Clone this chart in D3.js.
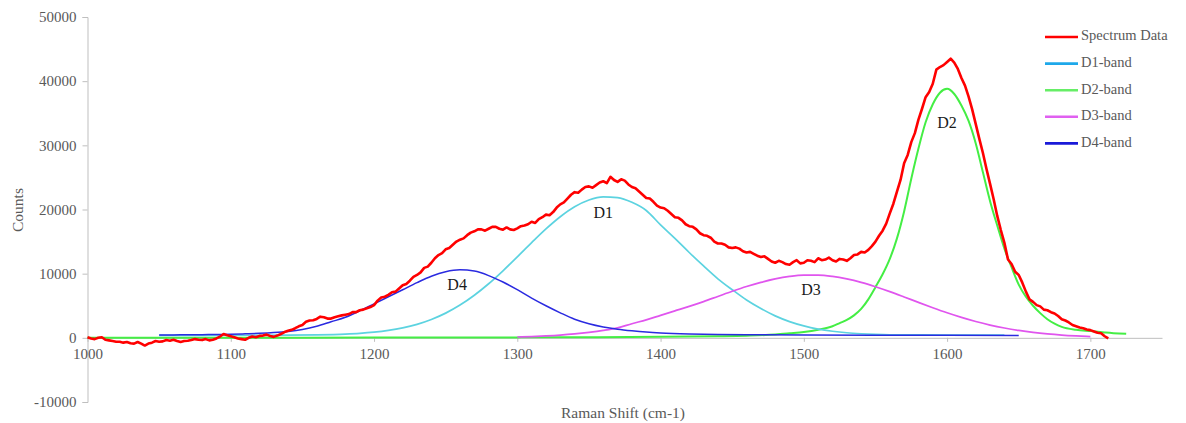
<!DOCTYPE html>
<html>
<head>
<meta charset="utf-8">
<script src="https://cdn.jsdelivr.net/npm/d3@7"></script>
<style>
  html, body { margin: 0; padding: 0; background: #fff; }
  svg { display: block; }
  text { font-family: "Liberation Serif", "Times New Roman", serif; }
</style>
</head>
<body>
<svg id="chart" width="1186" height="423"></svg>
<script>
// ---- Data ----
const spectrumShift = [
1000,1002.5,1005,1007.5,1010,1012.5,1015,1017.5,1020,1022.5,1025,1027.5,1030,1032.5,1035,1037.5,1040,1042.5,1045,1047.5,
1050,1052.5,1055,1057.5,1060,1062.5,1065,1067.5,1070,1072.5,1075,1077.5,1080,1082.5,1085,1087.5,1090,1092.5,1095,1097.5,
1100,1102.5,1105,1107.5,1110,1112.5,1115,1117.5,1120,1122.5,1125,1127.5,1130,1132.5,1135,1137.5,1140,1142.5,1145,1147.5,
1150,1152.5,1155,1157.5,1160,1162.5,1165,1167.5,1170,1172.5,1175,1177.5,1180,1182.5,1185,1187.5,1190,1192.5,1195,1197.5,
1200,1202.5,1205,1207.5,1210,1212.5,1215,1217.5,1220,1222.5,1225,1227.5,1230,1232.5,1235,1237.5,1240,1242.5,1245,1247.5,
1250,1252.5,1255,1257.5,1260,1262.5,1265,1267.5,1270,1272.5,1275,1277.5,1280,1282.5,1285,1287.5,1290,1292.5,1295,1297.5,
1300,1302.5,1305,1307.5,1310,1312.5,1315,1317.5,1320,1322.5,1325,1327.5,1330,1332.5,1335,1337.5,1340,1342.5,1345,1347.5,
1350,1352.5,1355,1357.5,1360,1362.5,1365,1367.5,1370,1372.5,1375,1377.5,1380,1382.5,1385,1387.5,1390,1392.5,1395,1397.5,
1400,1402.5,1405,1407.5,1410,1412.5,1415,1417.5,1420,1422.5,1425,1427.5,1430,1432.5,1435,1437.5,1440,1442.5,1445,1447.5,
1450,1452.5,1455,1457.5,1460,1462.5,1465,1467.5,1470,1472.5,1475,1477.5,1480,1482.5,1485,1487.5,1490,1492.5,1495,1497.5,
1500,1502.5,1505,1507.5,1510,1512.5,1515,1517.5,1520,1522.5,1525,1527.5,1530,1532.5,1535,1537.5,1540,1542.5,1545,1547.5,
1550,1552.5,1555,1557.5,1560,1562.5,1565,1567.5,1570,1572.5,1575,1577.5,1580,1582.5,1585,1587.5,1590,1592.5,1595,1597.5,
1600,1602.5,1605,1607.5,1610,1612.5,1615,1617.5,1620,1622.5,1625,1627.5,1630,1632.5,1635,1637.5,1640,1642.5,1645,1647.5,
1650,1652.5,1655,1657.5,1660,1662.5,1665,1667.5,1670,1672.5,1675,1677.5,1680,1682.5,1685,1687.5,1690,1692.5,1695,1697.5,
1700,1702.5,1705,1707.5,1710,1712.5];
const spectrumCounts = [
100,-100,-200,0,100,-300,-400,-500,-600,-600,-750,-650,-850,-900,-650,-900,-1200,-900,-750,-500,
-600,-550,-350,-450,-300,-500,-650,-500,-450,-350,-200,-300,-350,-200,-400,-300,-100,200,600,400,
250,100,-100,-200,-300,0,200,100,300,350,500,300,150,350,600,900,1100,1250,1500,1800,
2000,2500,2700,2750,2950,3300,3200,3000,3000,3200,3350,3500,3600,3700,4000,4000,4300,4400,4600,4800,
5100,5800,6300,6400,6700,7100,7200,7700,8200,8400,8900,9500,9800,10200,10900,11100,11700,12400,12900,13200,
13800,14000,14500,15000,15300,15500,16000,16400,16600,16900,16900,16700,17000,17300,17300,17000,16850,17200,16900,16800,
17050,17400,17500,17700,18100,17900,18500,18800,19200,19100,19600,20300,20800,21100,21700,22300,22700,22600,23100,23500,
23600,23400,23800,24200,24400,24100,25100,24600,24300,24700,24500,23900,23500,23300,22800,22300,21800,21700,21200,20600,
20300,20200,19800,19300,18800,18700,18300,17700,17400,17300,16900,16300,16000,15900,15600,15000,14700,14700,14500,14100,
14000,14100,13900,13500,13300,13400,13100,12800,12600,12700,12300,11900,11700,12000,11800,11500,11400,11800,12100,11600,
11700,12100,12000,11800,12400,12100,12200,12500,12100,11900,12300,12200,12000,12400,12900,13000,13400,13300,13700,14300,
15000,15900,16700,17800,19400,20900,22800,24600,27200,28500,30500,31900,34000,35700,37500,38300,39600,41800,42200,42500,
43000,43500,42900,41900,40500,39300,37600,35600,33300,31000,28800,26300,24000,21600,19000,16800,14800,12200,11500,10300,
9800,8600,7200,6000,5600,5100,4900,4400,4300,4000,3800,3400,2900,2700,2400,2000,1800,1600,1500,1300,
1200,1000,800,700,250,-100];

const d1Shift = [1050,1075,1100,1120,1140,1160,1180,1190,1200,1210,1220,1230,1240,1250,1260,1270,1280,1290,1300,1310,1320,1330,1340,1350,1360,1370,1380,1390,1400,1410,1420,1430,1440,1450,1460,1470,1480,1490,1500,1510,1520,1530,1540,1550,1560,1580,1600,1620,1640];
const d1Counts = [380,390,400,400,420,460,575,690,875,1150,1545,2100,2860,3850,5110,6640,8430,10450,12620,14830,16970,18870,20420,21480,21970,21850,21120,19850,17600,15500,13300,11200,9200,7500,5900,4570,3420,2530,1860,1370,1030,790,640,540,480,450,430,420,410];

const d2Shift = [1000,1050,1100,1150,1200,1250,1300,1350,1400,1420,1440,1460,1480,1490,1500,1510,1520,1525,1530,1535,1540,1545,1550,1555,1560,1565,1570,1575,1580,1585,1590,1595,1600,1605,1610,1615,1620,1625,1630,1635,1640,1645,1650,1655,1660,1665,1670,1675,1680,1690,1700,1710,1720,1725];
const d2Counts = [0,10,20,30,40,50,70,100,150,190,250,340,520,700,900,1250,1800,2300,2800,3500,4500,6000,7900,9900,12300,15500,19700,24800,29500,33600,36400,38200,38800,38000,36200,33800,30300,25800,21300,17500,13900,11000,8300,6400,5000,3850,2900,2200,1700,1250,1050,850,680,620];

const d3Shift = [1300,1310,1320,1330,1340,1350,1360,1370,1380,1390,1400,1410,1420,1430,1440,1450,1460,1470,1480,1490,1500,1510,1520,1530,1540,1550,1560,1570,1580,1590,1600,1610,1620,1630,1640,1650,1660,1670,1680,1690,1700];
const d3Counts = [130,200,300,430,610,850,1150,1550,2200,2800,3500,4200,4900,5650,6450,7250,8000,8650,9190,9580,9780,9780,9580,9190,8650,7970,7200,6370,5520,4690,3900,3180,2540,1990,1530,1150,845,610,430,300,200];

const d4Shift = [1050,1060,1070,1080,1090,1100,1110,1120,1130,1140,1150,1160,1170,1180,1190,1200,1210,1220,1230,1240,1250,1260,1270,1280,1290,1300,1310,1320,1330,1340,1350,1360,1370,1380,1390,1400,1420,1440,1460,1500,1550,1600,1650];
const d4Counts = [450,460,470,490,520,560,620,700,820,1000,1300,1800,2500,3200,4200,5300,6400,7500,8600,9600,10300,10600,10400,9700,8700,7500,6200,5000,3900,2900,2200,1700,1350,1100,900,760,600,520,480,430,400,390,380];

const xTicks = [1000,1100,1200,1300,1400,1500,1600,1700];
const yTicks = [-10000,0,10000,20000,30000,40000,50000];
const legendNames = ["Spectrum Data","D1-band","D2-band","D3-band","D4-band"];
const bandLabels = ["D1","D2","D3","D4"];
const bandLabelShift = [1360,1600,1505,1258];
const bandLabelCounts = [19200,33300,7200,8100];

// ---- Layout / styles ----
const svg = d3.select("#chart");
const x = d3.scaleLinear().domain([1000, 1750]).range([87.5, 1162]);
const y = d3.scaleLinear().domain([-10000, 50000]).range([402, 17]);
const axisColor = "#bfbfbf";
const textColor = "#595959";
const serif = '"Liberation Serif", "Times New Roman", serif';

const lineColors = ["#ff0000", "#5cd3e0", "#44ee44", "#e055ee", "#2a2ae0"];
const legendColors = ["#ff0000", "#1ea8ea", "#66ee66", "#e060f0", "#1a1ad8"];

// Y axis
const yAxis = svg.append("g").attr("transform", `translate(${x(1000)},0)`)
  .call(d3.axisLeft(y).tickValues(yTicks).tickSize(5).tickPadding(6).tickFormat(d => String(d)));
yAxis.attr("font-family", serif);
yAxis.select(".domain").attr("stroke", axisColor);
yAxis.selectAll(".tick line").attr("stroke", axisColor);
yAxis.selectAll(".tick text").attr("fill", textColor).style("font-size", "15px").style("font-family", serif);

// X axis at y=0
const xAxis = svg.append("g").attr("transform", `translate(0,${y(0)})`)
  .call(d3.axisBottom(x).tickValues(xTicks).tickSize(4).tickSizeOuter(0).tickPadding(7).tickFormat(d => String(d)));
xAxis.attr("font-family", serif);
xAxis.select(".domain").attr("stroke", axisColor);
xAxis.selectAll(".tick line").attr("stroke", axisColor);
xAxis.selectAll(".tick text").attr("fill", textColor).style("font-size", "15px").style("font-family", serif);

// Axis titles
svg.append("text").attr("x", 623).attr("y", 418).attr("text-anchor", "middle")
  .attr("fill", textColor).style("font-size", "15.5px").text("Raman Shift (cm-1)");
svg.append("text").attr("transform", "translate(23,210) rotate(-90)").attr("text-anchor", "middle")
  .attr("fill", textColor).style("font-size", "15.5px").text("Counts");

// Lines
const line = d3.line().x(d => x(d[0])).y(d => y(d[1]));
const smooth = d3.line().x(d => x(d[0])).y(d => y(d[1])).curve(d3.curveMonotoneX);
const zip = (a, b) => a.map((v, i) => [v, b[i]]);

const bands = [
  { s: d2Shift, c: d2Counts, color: lineColors[2], w: 2.0 },
  { s: d1Shift, c: d1Counts, color: lineColors[1], w: 1.7 },
  { s: d3Shift, c: d3Counts, color: lineColors[3], w: 1.7 },
  { s: d4Shift, c: d4Counts, color: lineColors[4], w: 1.5 }
];
bands.forEach(b => {
  svg.append("path").datum(zip(b.s, b.c)).attr("d", smooth)
    .attr("fill", "none").attr("stroke", b.color).attr("stroke-width", b.w);
});
svg.append("path").datum(zip(spectrumShift, spectrumCounts)).attr("d", line)
  .attr("fill", "none").attr("stroke", lineColors[0]).attr("stroke-width", 2.6)
  .attr("stroke-linejoin", "round");

// Band labels
bandLabels.forEach((t, i) => {
  svg.append("text").attr("x", x(bandLabelShift[i])).attr("y", y(bandLabelCounts[i]))
    .attr("text-anchor", "middle").attr("dominant-baseline", "middle")
    .attr("fill", "#1a1a1a").style("font-size", "16px").text(t);
});

// Legend
const lg = svg.append("g");
legendNames.forEach((n, i) => {
  const ly = 37 + i * 26.6;
  lg.append("line").attr("x1", 1045).attr("x2", 1078).attr("y1", ly).attr("y2", ly)
    .attr("stroke", legendColors[i]).attr("stroke-width", 2.6);
  lg.append("text").attr("x", 1081).attr("y", ly).attr("dominant-baseline", "middle")
    .attr("fill", textColor).style("font-size", "14.5px").text(n);
});
</script>
</body>
</html>
